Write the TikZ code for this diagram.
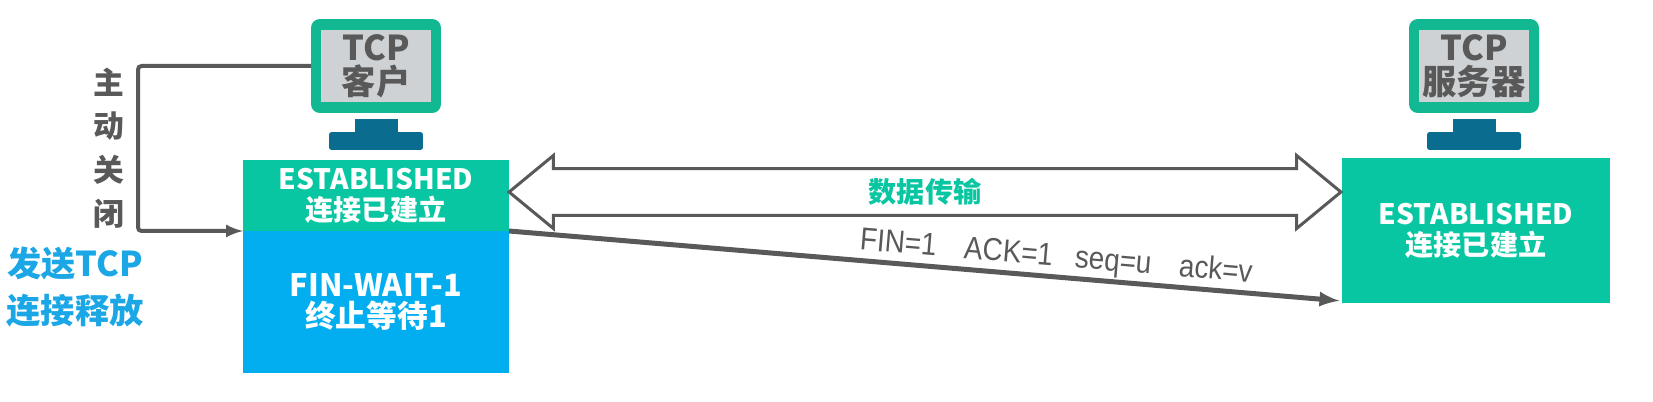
\documentclass[tikz,border=0pt]{standalone}
\usepackage{fontspec}
\setmainfont{Noto Sans CJK SC}
\newfontfamily\finfont{Liberation Sans}
\usetikzlibrary{shapes.arrows}
\definecolor{boxgreen}{HTML}{08C6A2}
\definecolor{boxblue}{HTML}{02AEEF}
\definecolor{pcgreen}{HTML}{12B892}
\definecolor{pcgrey}{HTML}{CFD2D4}
\definecolor{pcbase}{HTML}{0A6C8F}
\definecolor{linegrey}{HTML}{595959}
\definecolor{sendblue}{HTML}{1BA6E6}
\tikzset{
	statebox/.style={minimum width=5.32cm, inner sep=0pt, outer sep=0pt, text=white, align=center, font=\fontsize{16}{17.6}\selectfont\bfseries},
	pcframe/.style={fill=pcgreen, rounded corners=5pt, minimum width=2.6cm, minimum height=1.88cm, inner sep=0pt, outer sep=0pt},
	pcscreen/.style={fill=pcgrey, minimum width=2.2cm, minimum height=1.44cm, inner sep=0pt, text=linegrey, align=center, font=\fontsize{19.5}{19.5}\selectfont\bfseries},
	pcneck/.style={fill=pcbase, minimum width=.86cm, minimum height=.28cm, inner sep=0pt},
	pcfoot/.style={fill=pcbase, rounded corners=1.5pt, minimum width=1.88cm, minimum height=.36cm, inner sep=0pt},
	conn/.style={draw=linegrey, line width=.08cm}
}
\begin{document}
\begin{tikzpicture}[x=.02cm, y=-.02cm]
			\useasboundingbox (0,0) rectangle (1653,402);
			%client side
			\node[pcframe] (client) at (376,66) {};
			\node[pcscreen] (clientscreen) at (376,66) {TCP\\客户};
			\node[pcneck] (clientneck) at (376,126) {};
			\node[pcfoot] (clientfoot) at (376,141) {};
			\node[statebox, fill=boxgreen, minimum height=1.42cm] (est) at (376,195.5) {ESTABLISHED\\连接已建立};
			\node[statebox, fill=boxblue, minimum height=2.84cm, font=\fontsize{17.5}{18}\selectfont\bfseries] (finwait) at (376,302) {FIN-WAIT-1\\终止等待1};
			%server side
			\node[pcframe] (server) at (1474,66) {};
			\node[pcscreen] (serverscreen) at (1474,66) {TCP\\服务器};
			\node[pcneck] (serverneck) at (1474,126) {};
			\node[pcfoot] (serverfoot) at (1474,141) {};
			\node[statebox, fill=boxgreen, minimum width=5.36cm, minimum height=2.9cm] (estserver) at (1476,230.5) {ESTABLISHED\\连接已建立};
			%left labels
			\node[text=linegrey, align=center, inner sep=0pt, font=\fontsize{17.5}{24.8}\selectfont\bfseries] (close) at (109,148) {主\\动\\关\\闭};
			\node[text=sendblue, align=center, inner sep=0pt, font=\fontsize{19.5}{26.5}\selectfont\bfseries] (send) at (75,287) {发送TCP\\连接释放};
			%connectors
			\draw[conn, -latex, rounded corners=2pt] (client.west) -- ++(-173,0) |- (est.south west);
			\node[draw=linegrey, line width=.06cm, fill=white, shape=double arrow, double arrow tip angle=79, double arrow head extend=.17cm, minimum height=16.64cm, minimum width=1.46cm, inner sep=0pt, outer sep=0pt, text=boxgreen, font=\fontsize{16}{16}\selectfont\bfseries] (data) at (925,192) {数据传输};
			\draw[conn, line width=.1cm, -latex, shorten >=1.5pt] (est.south east) -- node[pos=.655, above=1pt, sloped, inner sep=0pt, text=linegrey, font=\finfont\fontsize{18}{18}\selectfont] (finlabel) {\scalebox{.88}[1]{FIN=1\hspace{1em}ACK=1\hspace{.8em}seq=u\hspace{1em}ack=v}} (estserver.west |- 0,301);
		\end{tikzpicture}
\end{document}
